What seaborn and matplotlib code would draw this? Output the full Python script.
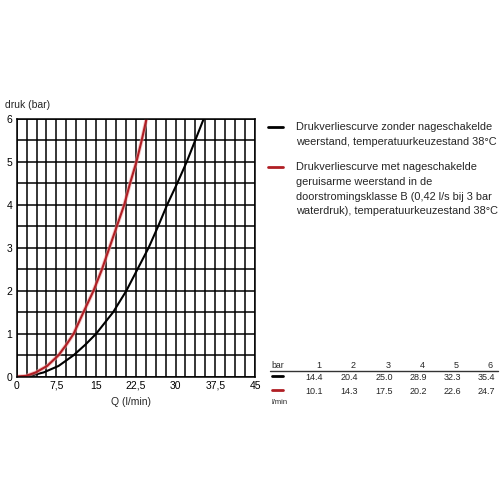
import matplotlib
matplotlib.use('Agg')
import matplotlib.pyplot as plt
import seaborn as sns
import numpy as np

# curves: pressure (bar) vs flow Q (l/min)
p_black = [0, 0.02, 0.1, 0.25, 0.5, 0.75, 1, 1.5, 2, 2.5, 3, 3.5, 4, 4.5, 5, 5.5, 6]
q_black = [0, 2.5, 5.1, 7.9, 10.75, 13.0, 15.0, 18.2, 20.7, 22.8, 24.9, 26.7, 28.4, 30.3, 32.1, 33.7, 35.3]
p_red = [0, 0.02, 0.1, 0.25, 0.5, 0.75, 1, 1.5, 2, 2.5, 3, 3.5, 4, 4.5, 5, 5.5, 6]
q_red = [0, 1.8, 3.6, 5.75, 7.9, 9.4, 10.75, 12.6, 14.5, 16.1, 17.5, 18.9, 20.3, 21.4, 22.6, 23.6, 24.5]

# table at bottom right
table_bar = [1, 2, 3, 4, 5, 6]
table_black = ['14.4', '20.4', '25.0', '28.9', '32.3', '35.4']
table_red = ['10.1', '14.3', '17.5', '20.2', '22.6', '24.7']

x_ticks = [0, 7.5, 15, 22.5, 30, 37.5, 45]
x_ticklabels = ['0', '7,5', '15', '22,5', '30', '37,5', '45']
y_ticks = [0, 1, 2, 3, 4, 5, 6]

legend_black = 'Drukverliescurve zonder nageschakelde\nweerstand, temperatuurkeuzestand 38°C'
legend_red = ('Drukverliescurve met nageschakelde\ngeruisarme weerstand in de\n'
              'doorstromingsklasse B (0,42 l/s bij 3 bar\nwaterdruk), temperatuurkeuzestand 38°C')

sns.set_style('white')
plt.rcParams['font.family'] = ['Liberation Sans', 'DejaVu Sans']

BLACK = '#000000'
RED = '#b01e24'
W, H = 500, 500


def px(x, y):
    """pixel coords (from top left) to figure coords"""
    return x / W, 1 - y / H


def hline(x0, x1, y, color, lw):
    fig.add_artist(plt.Line2D([x0 / W, x1 / W], [1 - y / H] * 2, color=color, lw=lw))


fig = plt.figure(figsize=(5, 5), dpi=100)
ax = fig.add_axes([16.7 / W, 1 - 376.7 / H, 238.3 / W, 257.7 / H])

sns.lineplot(x=q_black, y=p_black, sort=False, estimator=None, color=BLACK, lw=1.5, ax=ax)
sns.lineplot(x=q_red, y=p_red, sort=False, estimator=None, color='#f2a0a0', lw=2.8, alpha=0.6, ax=ax)
sns.lineplot(x=q_red, y=p_red, sort=False, estimator=None, color=RED, lw=1.5, ax=ax)

ax.set_xlim(0, 45)
ax.set_ylim(0, 6)
ax.set_xticks(x_ticks)
ax.set_xticklabels(x_ticklabels)
ax.set_yticks(y_ticks)
ax.set_xticks(np.arange(0, 45.01, 45 / 24), minor=True)
ax.set_yticks(np.arange(0, 6.01, 0.5), minor=True)
ax.grid(True, which='both', color='black', lw=1.1)
ax.set_axisbelow(True)
ax.tick_params(which='both', length=0, labelsize=7.5, colors='black')
ax.tick_params(axis='x', pad=3)
ax.tick_params(axis='y', pad=3)
for s in ax.spines.values():
    s.set_color('black')
    s.set_linewidth(1.1)
ax.set_xlabel('')
ax.set_ylabel('')

fig.text(*px(5, 105), 'druk (bar)', fontsize=7.5, va='center', ha='left')
fig.text(*px(131, 402), 'Q (l/min)', fontsize=7.5, va='center', ha='center')

# legend
hline(268, 283, 127, BLACK, 2)
hline(268, 283, 167, RED, 2)
fig.text(*px(296, 122), legend_black, fontsize=7.9, va='top', ha='left', linespacing=1.6)
fig.text(*px(296, 162), legend_red, fontsize=7.9, va='top', ha='left', linespacing=1.6)

# table
fig.text(*px(271, 365), 'bar', fontsize=6.3, va='center', ha='left')
col_x = [323, 358, 393, 427, 461, 495]
for cx, b, vb, vr in zip(col_x, table_bar, table_black, table_red):
    fig.text(*px(cx - 2, 365), str(b), fontsize=6.5, va='center', ha='right')
    fig.text(*px(cx, 377), vb, fontsize=6.5, va='center', ha='right')
    fig.text(*px(cx, 391), vr, fontsize=6.5, va='center', ha='right')
hline(270, 498, 371, '#333333', 1)
hline(272, 283, 376, BLACK, 2)
hline(272, 283, 390, RED, 2)
fig.text(*px(271, 403), 'l/min', fontsize=5.5, va='center', ha='left')

fig.savefig('out.png', dpi=100, facecolor='white')
